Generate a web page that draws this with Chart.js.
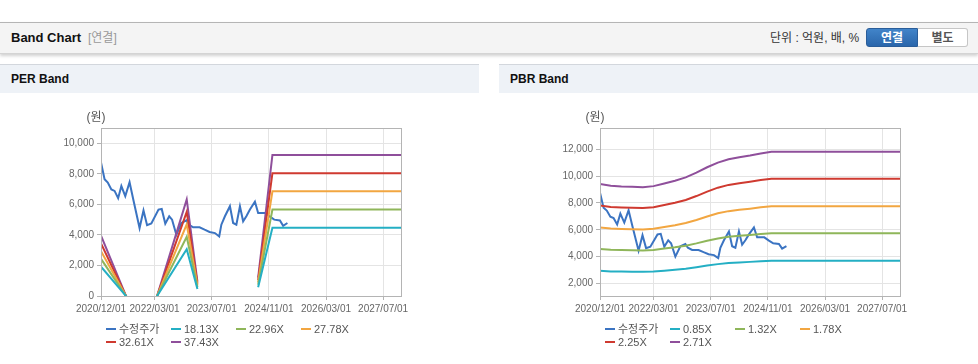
<!DOCTYPE html>
<html lang="ko">
<head>
<meta charset="utf-8">
<title>Band Chart</title>
<script src="https://cdn.jsdelivr.net/npm/chart.js@4.4.1/dist/chart.umd.min.js"></script>
<style>
  body { margin: 0; width: 978px; height: 364px; background: #fff; position: relative; overflow: hidden;
         font-family: "Liberation Sans", "Noto Sans CJK KR", sans-serif; }
  .topbar { position: absolute; left: 0; top: 22px; width: 978px; height: 30px; background: #f4f4f4;
            border-top: 1px solid #b5b5b5; border-bottom: 1px solid #d4d4d4; box-shadow: 0 2px 3px rgba(0,0,0,0.18); }
  .topbar .ttl { position: absolute; left: 11px; top: 0; line-height: 30px; font-size: 13px; font-weight: bold; color: #111; }
  .topbar .sub { position: absolute; left: 88px; top: 0; line-height: 30px; font-size: 12px; color: #999; }
  .topbar .unit { position: absolute; left: 770px; top: 0; line-height: 30px; font-size: 12px; color: #333; }
  .btn { position: absolute; top: 5px; height: 19px; line-height: 19px; font-size: 12px; font-weight: bold; text-align: center; box-sizing: border-box; }
  .btn.on { left: 866px; width: 52px; background: linear-gradient(#4184c9, #2a66ab); color: #fff; border: 1px solid #2a5d99; border-radius: 3px 0 0 3px; }
  .btn.off { left: 918px; width: 50px; background: #fff; color: #555; border: 1px solid #c6c6c6; border-left: none; border-radius: 0 3px 3px 0; }
  .panel { position: absolute; top: 64px; width: 479px; height: 299px; }
  .panel .phead { height: 28px; line-height: 28px; background: #eef2f7; border-top: 1px solid #d3d7dd; padding-left: 11px;
                  font-size: 12px; font-weight: bold; color: #111; }
  .panel canvas { position: absolute; left: 0; top: 29px; }
  .legend { position: absolute; left: 106px; top: 259px; width: 270px; font-size: 11px; color: #555; }
  .legend .item { display: inline-block; width: 65px; height: 13px; line-height: 13px; white-space: nowrap; vertical-align: top; }
  .legend .sw { display: inline-block; width: 10px; height: 2px; margin-right: 3px; vertical-align: middle; position: relative; top: -1px; }
</style>
</head>
<body>

<div class="topbar">
  <span class="ttl">Band Chart</span>
  <span class="sub">[연결]</span>
  <span class="unit">단위 : 억원, 배, %</span>
  <span class="btn on">연결</span>
  <span class="btn off">별도</span>
</div>

<div class="panel" style="left:0">
  <div class="phead">PER Band</div>
  <canvas id="perChart" width="479" height="269"></canvas>
  <div class="legend" id="perLegend"></div>
</div>

<div class="panel" style="left:499px">
  <div class="phead">PBR Band</div>
  <canvas id="pbrChart" width="479" height="269"></canvas>
  <div class="legend" id="pbrLegend"></div>
</div>

<script>
// x values are months counted from 2020/12/01
const tickMonths = [0, 15, 31, 47, 63, 79];
const tickLabels = ["2020/12/01", "2022/03/01", "2023/07/01", "2024/11/01", "2026/03/01", "2027/07/01"];

const perTicks = [0, 2000, 4000, 6000, 8000, 10000];
const pbrTicks = [2000, 4000, 6000, 8000, 10000, 12000];

// 수정주가
const priceMonths = [0, 1, 1.9, 2.9, 3.8, 4.8, 5.7, 6.8, 8.0, 9.1, 10.8, 11.9, 12.9, 14.1, 16.1, 17.0,
  18.0, 19.1, 19.9, 21.1, 22.5, 23.9, 24.6, 25.8, 27.6, 29.0, 30.4, 31.9, 33.1, 33.7, 34.7, 36.1,
  37.0, 37.9, 38.9, 39.8, 40.7, 41.7, 43.1, 44.0, 46.0, 47.3, 48.5, 50.1, 51.0, 52.2];
const priceValues = [8750, 7650, 7430, 6980, 6880, 6400, 7200, 6540, 7450, 6250, 4450, 5600, 4640, 4750, 5660, 5700,
  4740, 5220, 5000, 4010, 4780, 4950, 4670, 4500, 4500, 4340, 4190, 4120, 3900, 4670, 5220, 5880,
  4780, 4670, 5880, 4890, 5220, 5660, 6170, 5440, 5440, 5200, 5000, 4950, 4600, 4780];

// PER band (null = no value)
const perMonths = [0, 12, 24, 27, 35, 44, 48, 84];
const per1813 = [1917, -1369, 3064, 453, null, 580, 4471, 4471];
const per2296 = [2427, -1733, 3880, 574, null, 735, 5662, 5662];
const per2778 = [2936, -2097, 4695, 695, null, 889, 6851, 6851];
const per3261 = [3447, -2462, 5511, 815, null, 1044, 8042, 8042];
const per3743 = [3957, -2826, 6326, 936, null, 1198, 9232, 9232];

// PBR band
const pbrMonths = [0, 3, 6, 9, 12, 15, 18, 21, 24, 27, 30, 33, 36, 39, 42, 45, 48, 84];
const pbr085 = [2949, 2910, 2895, 2886, 2876, 2901, 2964, 3027, 3105, 3215, 3341, 3450, 3528, 3576, 3617, 3664, 3701, 3701];
const pbr132 = [4579, 4520, 4496, 4481, 4467, 4505, 4603, 4701, 4822, 4992, 5188, 5358, 5479, 5553, 5617, 5689, 5747, 5747];
const pbr178 = [6175, 6095, 6063, 6043, 6024, 6075, 6207, 6339, 6502, 6732, 6995, 7225, 7389, 7488, 7574, 7672, 7750, 7750];
const pbr225 = [7805, 7704, 7664, 7639, 7614, 7679, 7846, 8012, 8219, 8510, 8843, 9133, 9340, 9466, 9574, 9698, 9797, 9797];
const pbr271 = [9401, 9279, 9230, 9200, 9171, 9249, 9450, 9650, 9900, 10249, 10650, 11000, 11249, 11401, 11531, 11680, 11799, 11799];

const colors = ["#3b74c2", "#24afc4", "#8fb65a", "#f2a641", "#cf3a30", "#8f4f9b"];
const fontFamily = "'Liberation Sans', 'Noto Sans CJK KR', sans-serif";

function toPoints(xs, ys) {
  return xs.map((x, i) => ({ x: x, y: ys[i] }));
}

function fmt(v) {
  return String(v).replace(/\B(?=(\d{3})+(?!\d))/g, ",");
}

function lineSet(label, xs, ys, color, order) {
  return {
    label: label,
    data: toPoints(xs, ys),
    borderColor: color,
    backgroundColor: color,
    borderWidth: 2,
    pointRadius: 0,
    tension: 0,
    spanGaps: false,
    order: order,
  };
}

// plot frame + unit label
const framePlugin = {
  id: "frame",
  afterDatasetsDraw(chart) {
    const { ctx, chartArea: a } = chart;
    ctx.save();
    ctx.strokeStyle = "#b4b4b4";
    ctx.lineWidth = 1;
    ctx.strokeRect(a.left + 0.5, a.top + 0.5, a.right - a.left, a.bottom - a.top);
    ctx.fillStyle = "#555";
    ctx.font = "12px " + fontFamily;
    ctx.textAlign = "center";
    ctx.textBaseline = "middle";
    ctx.fillText("(원)", a.left - 5, a.top - 10);
    ctx.restore();
  },
};

function buildLegend(chart, legendId) {
  const box = document.getElementById(legendId);
  box.innerHTML = "";
  chart.data.datasets.forEach((ds) => {
    const item = document.createElement("span");
    item.className = "item";
    const sw = document.createElement("span");
    sw.className = "sw";
    sw.style.background = ds.borderColor;
    item.appendChild(sw);
    item.appendChild(document.createTextNode(ds.label));
    box.appendChild(item);
  });
}

function makeChart(canvasId, legendId, datasets, yMin, yMax, yTicks) {
  const ctx = document.getElementById(canvasId);
  const chart = new Chart(ctx, {
    type: "line",
    data: { datasets: datasets },
    options: {
      responsive: false,
      animation: false,
      layout: { padding: { top: 35, right: 78, bottom: 36, left: 0 } },
      plugins: {
        legend: { display: false },
        tooltip: { enabled: false },
      },
      scales: {
        x: {
          type: "linear",
          min: 0,
          max: 84,
          afterBuildTicks: (s) => { s.ticks = tickMonths.map((v) => ({ value: v })); },
          afterFit: (s) => { s.height = 30; },
          ticks: {
            autoSkip: false,
            maxRotation: 0,
            padding: 3,
            color: "#666",
            font: { size: 10, family: fontFamily },
            callback: (v, i) => tickLabels[i],
          },
          grid: { color: "#e4e4e4", tickLength: 4, tickColor: "#b4b4b4" },
          border: { color: "#b4b4b4" },
        },
        y: {
          min: yMin,
          max: yMax,
          afterBuildTicks: (s) => { s.ticks = yTicks.map((v) => ({ value: v })); },
          afterFit: (s) => { s.width = 101; },
          ticks: {
            padding: 3,
            color: "#666",
            font: { size: 10, family: fontFamily },
            callback: (v) => fmt(v),
          },
          grid: { color: "#e4e4e4", tickLength: 4, tickColor: "#b4b4b4" },
          border: { color: "#b4b4b4" },
        },
      },
    },
    plugins: [framePlugin],
  });
  buildLegend(chart, legendId);
  return chart;
}

makeChart("perChart", "perLegend", [
  lineSet("수정주가", priceMonths, priceValues, colors[0], 1),
  lineSet("18.13X", perMonths, per1813, colors[1], 0),
  lineSet("22.96X", perMonths, per2296, colors[2], 0),
  lineSet("27.78X", perMonths, per2778, colors[3], 0),
  lineSet("32.61X", perMonths, per3261, colors[4], 0),
  lineSet("37.43X", perMonths, per3743, colors[5], 0),
], 0, 11000, perTicks);

makeChart("pbrChart", "pbrLegend", [
  lineSet("수정주가", priceMonths, priceValues, colors[0], 1),
  lineSet("0.85X", pbrMonths, pbr085, colors[1], 0),
  lineSet("1.32X", pbrMonths, pbr132, colors[2], 0),
  lineSet("1.78X", pbrMonths, pbr178, colors[3], 0),
  lineSet("2.25X", pbrMonths, pbr225, colors[4], 0),
  lineSet("2.71X", pbrMonths, pbr271, colors[5], 0),
], 1080, 13570, pbrTicks);
</script>
</body>
</html>
